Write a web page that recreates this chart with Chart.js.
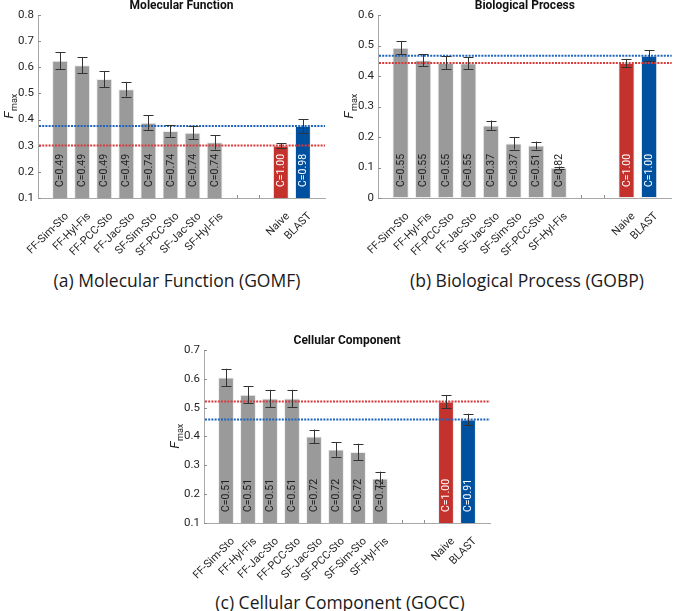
<!DOCTYPE html>
<html>
<head>
<meta charset="utf-8">
<script src="https://cdn.jsdelivr.net/npm/chart.js@4.4.1/dist/chart.umd.min.js"></script>
<style>
  body { margin: 0; background: #fff; width: 685px; height: 611px; position: relative; overflow: hidden; }
  .panel { position: absolute; }
  .caption { position: absolute; font-family: "Open Sans", sans-serif; font-size: 17.5px; line-height: 24px; color: #1a1a1a; white-space: nowrap; transform: translateX(-50%); }
</style>
</head>
<body>
<div class="panel" style="left:0;top:0;width:340px;height:265px"><canvas id="mf"></canvas></div>
<div class="panel" style="left:340px;top:0;width:345px;height:265px"><canvas id="bp"></canvas></div>
<div class="panel" style="left:166px;top:335px;width:340px;height:255px"><canvas id="cc"></canvas></div>
<div class="caption" style="left:177px;top:268px">(a) Molecular Function (GOMF)</div>
<div class="caption" style="left:527px;top:268px">(b) Biological Process (GOBP)</div>
<div class="caption" style="left:340px;top:590px">(c) Cellular Component (GOCC)</div>
<script>
// baselines shared by all three panels
const baselineNames = ['Naive', 'BLAST'];

// Molecular Function
const mfMethods = ['FF-Sim-Sto', 'FF-Hyl-Fis', 'FF-PCC-Sto', 'FF-Jac-Sto', 'SF-Sim-Sto', 'SF-PCC-Sto', 'SF-Jac-Sto', 'SF-Hyl-Fis'];
const mfFmax = [0.625, 0.608, 0.555, 0.516, 0.388, 0.356, 0.350, 0.313];
const mfErr = [0.032, 0.030, 0.031, 0.028, 0.029, 0.022, 0.025, 0.028];
const mfCoverage = ['0.49', '0.49', '0.49', '0.49', '0.74', '0.74', '0.74', '0.74'];
const mfBaseFmax = [0.301, 0.375];
const mfBaseErr = [0.008, 0.026];
const mfBaseCoverage = ['1.00', '0.98'];

// Biological Process
const bpMethods = ['FF-Sim-Sto', 'FF-Hyl-Fis', 'FF-PCC-Sto', 'FF-Jac-Sto', 'SF-Jac-Sto', 'SF-Sim-Sto', 'SF-PCC-Sto', 'SF-Hyl-Fis'];
const bpFmax = [0.493, 0.452, 0.443, 0.442, 0.238, 0.179, 0.172, 0.099];
const bpErr = [0.022, 0.020, 0.021, 0.020, 0.016, 0.020, 0.013, 0.004];
const bpCoverage = ['0.55', '0.55', '0.55', '0.55', '0.37', '0.37', '0.51', '0.82'];
const bpBaseFmax = [0.443, 0.466];
const bpBaseErr = [0.013, 0.018];
const bpBaseCoverage = ['1.00', '1.00'];

// Cellular Component
const ccMethods = ['FF-Sim-Sto', 'FF-Hyl-Fis', 'FF-Jac-Sto', 'FF-PCC-Sto', 'SF-Jac-Sto', 'SF-PCC-Sto', 'SF-Sim-Sto', 'SF-Hyl-Fis'];
const ccFmax = [0.605, 0.545, 0.532, 0.532, 0.400, 0.355, 0.346, 0.254];
const ccErr = [0.030, 0.029, 0.030, 0.030, 0.024, 0.025, 0.029, 0.024];
const ccCoverage = ['0.51', '0.51', '0.51', '0.51', '0.72', '0.72', '0.72', '0.72'];
const ccBaseFmax = [0.521, 0.459];
const ccBaseErr = [0.022, 0.020];
const ccBaseCoverage = ['1.00', '0.91'];

const GRAY = '#9a9a9a';
const RED = '#c4322d';
const BLUE = '#0050a0';
const RED_LINE = '#d83a3a';
const BLUE_LINE = '#1e64be';
const TEXT = '#262626';

// custom drawing: error bars, coverage text, dotted baselines, inward ticks, titles
const decorPlugin = {
  id: 'decor',
  beforeDatasetsDraw(chart) {
    const ctx = chart.ctx;
    const area = chart.chartArea;
    const x = chart.scales.x, y = chart.scales.y;
    ctx.save();
    ctx.strokeStyle = '#8c8c8c';
    ctx.lineWidth = 1;
    ctx.beginPath();
    for (let i = 1; i < chart.data.labels.length - 1; i++) {
      const px = Math.round(x.getPixelForValue(i)) + 0.5;
      ctx.moveTo(px, area.bottom);
      ctx.lineTo(px, area.bottom - 3);
    }
    y.ticks.forEach(t => {
      const py = Math.round(y.getPixelForValue(t.value)) + 0.5;
      ctx.moveTo(area.left, py);
      ctx.lineTo(area.left + 3, py);
    });
    ctx.stroke();
    ctx.restore();
  },
  afterDatasetsDraw(chart) {
    const ctx = chart.ctx;
    const area = chart.chartArea;
    const y = chart.scales.y;
    const p = chart.options.plugins.decor;
    const meta = chart.getDatasetMeta(0);
    const vals = chart.data.datasets[0].data;
    ctx.save();

    // coverage labels inside bars
    ctx.font = '10.5px Roboto';
    ctx.textAlign = 'left';
    ctx.textBaseline = 'middle';
    meta.data.forEach((bar, i) => {
      if (vals[i] == null) return;
      ctx.save();
      ctx.translate(bar.x, area.bottom - 11);
      ctx.rotate(-Math.PI / 2);
      ctx.fillStyle = p.coverage[i].color;
      ctx.fillText('C=' + p.coverage[i].text, 0, 0.5);
      ctx.restore();
    });

    // dotted baseline lines
    ctx.lineWidth = 2;
    ctx.setLineDash([2, 1.2]);
    p.lines.forEach(l => {
      const py = y.getPixelForValue(l.value);
      ctx.strokeStyle = l.color;
      ctx.beginPath();
      ctx.moveTo(area.left + 1, py);
      ctx.lineTo(area.right, py);
      ctx.stroke();
    });
    ctx.setLineDash([]);

    // error bars
    ctx.strokeStyle = '#333333';
    ctx.lineWidth = 1;
    meta.data.forEach((bar, i) => {
      if (vals[i] == null) return;
      const e = p.errors[i];
      const top = y.getPixelForValue(vals[i] + e);
      const bot = y.getPixelForValue(vals[i] - e);
      const cx = Math.round(bar.x) + 0.5;
      ctx.beginPath();
      ctx.moveTo(cx, top); ctx.lineTo(cx, bot);
      ctx.moveTo(cx - 5, Math.round(top) + 0.5); ctx.lineTo(cx + 5, Math.round(top) + 0.5);
      ctx.moveTo(cx - 5, Math.round(bot) + 0.5); ctx.lineTo(cx + 5, Math.round(bot) + 0.5);
      ctx.stroke();
    });

    // panel title
    ctx.fillStyle = '#111';
    ctx.font = 'bold 12px Roboto';
    ctx.textAlign = 'center';
    ctx.textBaseline = 'middle';
    ctx.fillText(p.title, (area.left + area.right) / 2, area.top - 9.5);

    // y axis title: italic F with subscript "max"
    ctx.save();
    ctx.translate(area.left - 29, (area.top + area.bottom) / 2);
    ctx.rotate(-Math.PI / 2);
    ctx.font = 'italic 13.5px Roboto';
    const fw = ctx.measureText('F').width;
    ctx.font = '9px Roboto';
    const mw = ctx.measureText('max').width;
    const start = -(fw + mw) / 2;
    ctx.textAlign = 'left';
    ctx.textBaseline = 'alphabetic';
    ctx.fillStyle = TEXT;
    ctx.font = 'italic 13.5px Roboto';
    ctx.fillText('F', start, 4);
    ctx.font = '9px Roboto';
    ctx.fillText('max', start + fw + 0.5, 8);
    ctx.restore();

    ctx.restore();
  }
};

function makePanel(id, title, methods, fmax, err, coverage, baseFmax, baseErr, baseCoverage, yMin, yMax, padRight) {
  const labels = ['', ...methods, '', '', ...baselineNames, ''];
  const values = [null, ...fmax, null, null, ...baseFmax, null];
  const errors = [0, ...err, 0, 0, ...baseErr, 0];
  const colors = [GRAY, ...fmax.map(() => GRAY), GRAY, GRAY, RED, BLUE, GRAY];
  const cov = [null, ...coverage.map(c => ({ text: c, color: '#1e1e1e' })), null, null,
    { text: baseCoverage[0], color: '#ffffff' }, { text: baseCoverage[1], color: '#ffffff' }, null];

  new Chart(document.getElementById(id), {
    type: 'bar',
    data: {
      labels: labels,
      datasets: [{
        data: values,
        backgroundColor: colors,
        borderColor: 'rgba(235,235,235,0.9)',
        borderWidth: 1,
        barPercentage: 0.72,
        categoryPercentage: 1,
        borderSkipped: false
      }]
    },
    options: {
      responsive: true,
      maintainAspectRatio: false,
      animation: false,
      events: [],
      layout: { padding: { left: 0, right: padRight, top: 15, bottom: 0 } },
      scales: {
        x: {
          offset: false,
          grid: { display: false },
          border: { display: true, color: '#a8a8a8', width: 1 },
          ticks: {
            autoSkip: false,
            maxRotation: 45,
            minRotation: 45,
            padding: 4,
            labelOffset: 7,
            color: TEXT,
            font: { family: 'Roboto', size: 11 }
          },
          afterFit: s => { s.height = 67; }
        },
        y: {
          min: yMin,
          max: yMax,
          grid: { display: false, drawTicks: false },
          border: { display: true, color: '#a8a8a8', width: 1 },
          ticks: {
            stepSize: 0.1,
            padding: 4,
            color: TEXT,
            font: { family: 'Roboto', size: 11.5 },
            callback: v => parseFloat(v.toFixed(2)).toString()
          },
          afterFit: s => { s.width = 38; }
        }
      },
      plugins: {
        legend: { display: false },
        tooltip: { enabled: false },
        decor: {
          title: title,
          errors: errors,
          coverage: cov,
          lines: [
            { value: baseFmax[0], color: RED_LINE },
            { value: baseFmax[1], color: BLUE_LINE }
          ]
        }
      }
    },
    plugins: [decorPlugin]
  });
}

makePanel('mf', 'Molecular Function', mfMethods, mfFmax, mfErr, mfCoverage, mfBaseFmax, mfBaseErr, mfBaseCoverage, 0.1, 0.8, 15);
makePanel('bp', 'Biological Process', bpMethods, bpFmax, bpErr, bpCoverage, bpBaseFmax, bpBaseErr, bpBaseCoverage, 0, 0.6, 2);
makePanel('cc', 'Cellular Component', ccMethods, ccFmax, ccErr, ccCoverage, ccBaseFmax, ccBaseErr, ccBaseCoverage, 0.1, 0.7, 16);
</script>
</body>
</html>
